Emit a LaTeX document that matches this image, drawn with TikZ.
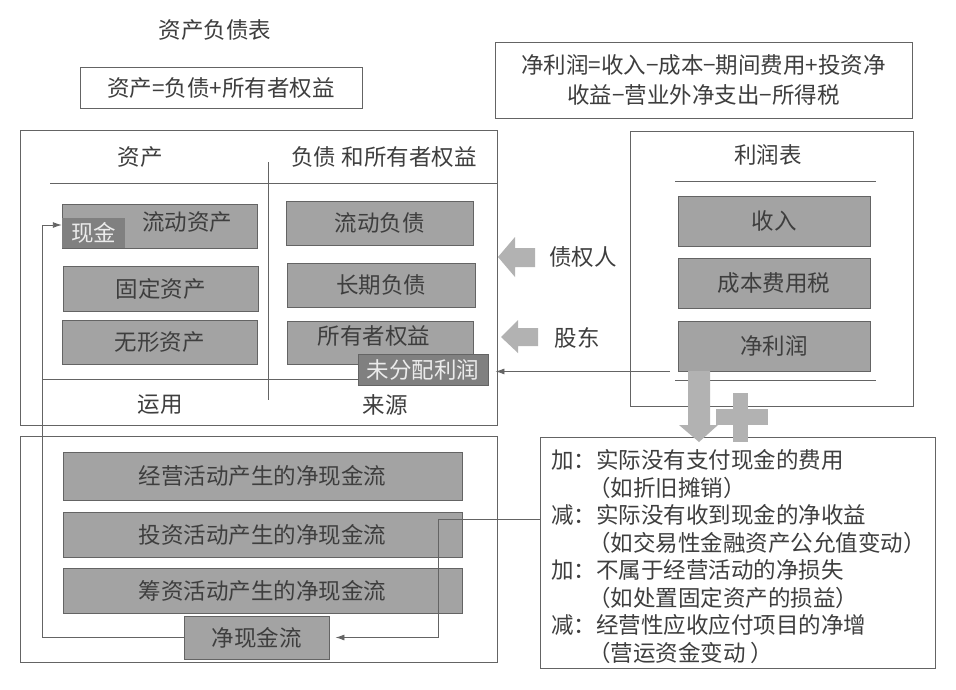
\documentclass[tikz,border=0pt]{standalone}
\usepackage{fontspec}
\newfontfamily\cjk{Noto Sans CJK SC}
\usepackage{xcolor}
\definecolor{bxgray}{RGB}{163,163,163}
\definecolor{bxdark}{RGB}{128,128,128}
\definecolor{lngray}{RGB}{100,100,100}
\definecolor{txgray}{RGB}{62,62,62}
\definecolor{arrgray}{RGB}{178,178,178}
\usetikzlibrary{arrows.meta,positioning,calc}

\begin{document}
\begin{tikzpicture}[x=1pt,y=-1pt,
  every node/.style={font=\cjk\fontsize{22.5}{27}\selectfont,text=txgray,inner sep=0pt},
  grybox/.style={draw=lngray,fill=bxgray,line width=0.9pt},
  drkbox/.style={fill=bxdark,text=white!92!black},
  frame/.style={draw=lngray,line width=0.9pt},
  arr/.style={-{Latex[length=9pt,width=6pt]},draw=lngray,line width=0.9pt},
  bigarr/.style={fill=arrgray}
]
  \path[fill=white] (0,0) rectangle (956,689);

  % Balance sheet
  \node (bstitle) at (215,30) {资产负债表};
  \node[draw=lngray,line width=0.9pt,minimum width=282pt,minimum height=41pt] (eqn) at (221,88) {资产=负债+所有者权益};
  \draw[frame] (20,130) rectangle (497,425);
  \node (zc) at (140,157) {资产};
  \node (fzqy) at (384,157) {负债 和所有者权益};
  \draw[frame] (50,183) -- (497,183);
  \draw[frame] (268,162) -- (268,400);
  \draw[frame] (42,379) -- (360,379);

  \node[grybox,minimum width=195pt,minimum height=44pt] (ldzc) at (159.5,226) {};
  \node (ldzctx) at (187,222) {流动资产};
  \node[drkbox,minimum width=63pt,minimum height=30pt] (xj) at (93.5,233) {现金};
  \node[grybox,minimum width=195pt,minimum height=45pt] (gdzc) at (160.5,288.5) {固定资产};
  \node[grybox,minimum width=195pt,minimum height=44pt] (wxzc) at (159.5,342) {无形资产};
  \node (yy) at (160,405) {运用};

  \node[grybox,minimum width=187pt,minimum height=44pt] (ldfz) at (379.5,223) {流动负债};
  \node[grybox,minimum width=188pt,minimum height=44pt] (cqfz) at (381,285) {长期负债};
  \node[grybox,minimum width=186pt,minimum height=43pt] (syzqy) at (380,342.5) {};
  \node (syzqytx) at (374,336) {所有者权益};
  \node[drkbox,draw=lngray,line width=0.9pt,minimum width=130pt,minimum height=31pt] (wfp) at (423,369.5) {未分配利润};
  \node (ly) at (385,405) {来源};

  % creditors and owners
  \fill[bigarr] (498,257) -- (515,237) -- (515,248) -- (535,248) -- (535,267) -- (515,267) -- (515,277) -- cycle;
  \fill[bigarr] (501,337) -- (518,320) -- (518,328) -- (538,328) -- (538,346) -- (518,346) -- (518,353) -- cycle;
  \node (zqr) at (583,257) {债权人};
  \node (gd) at (577,338) {股东};

  % Income statement
  \node[draw=lngray,line width=0.9pt,minimum width=417pt,minimum height=76pt,align=center,
    font=\cjk\fontsize{22.5}{30}\selectfont] (jlrgs) at (703.5,80) {净利润=收入−成本−期间费用+投资净\\收益−营业外净支出−所得税};
  \draw[frame] (630,131) rectangle (913,406);
  \node (lrb) at (768,155) {利润表};
  \draw[frame] (675,181) -- (876,181);
  \node[grybox,minimum width=192pt,minimum height=50pt] (sr) at (774,221) {收入};
  \node[grybox,minimum width=192pt,minimum height=50pt] (cbfys) at (774,283) {成本费用税};
  \node[grybox,minimum width=192pt,minimum height=50pt] (jlr) at (774,346) {净利润};
  \draw[frame] (675,380) -- (876,380);
  \draw[arr,shorten <=8pt,shorten >=7pt] (jlr.south west) -- (jlr.south west -| wfp.east);

  % Cash flow
  \draw[frame] (20,436) rectangle (497,662);
  \node[grybox,minimum width=399pt,minimum height=48pt] (jyhd) at (262.5,476) {经营活动产生的净现金流};
  \node[grybox,minimum width=399pt,minimum height=45pt] (tzhd) at (262.5,534.5) {投资活动产生的净现金流};
  \node[grybox,minimum width=399pt,minimum height=45pt] (czhd) at (262.5,590.5) {筹资活动产生的净现金流};
  \node[grybox,minimum width=145pt,minimum height=43pt] (jxjl) at (256.5,637.5) {净现金流};
  \draw[arr] (jxjl.west) -- (42,637.5) |- ([yshift=8pt]xj.west);

  % Adjustments
  \node[draw=lngray,line width=0.9pt,minimum width=395pt,minimum height=231pt] (tzx) at (737.5,552.5) {};
  \foreach \tx [count=\i] in {加：实际没有支付现金的费用,（如折旧摊销）,减：实际没有收到现金的净收益,
    （如交易性金融资产公允值变动）,加：不属于经营活动的净损失,（如处置固定资产的损益）,
    减：经营性应收应付项目的净增,（营运资金变动 ）}{
    \pgfmathsetmacro\ind{isodd(\i) ? 0 : 37}
    \node[anchor=west] (tzx\i) at ({551+\ind},{460+27.5*(\i-1)}) {\tx};
  }
  \coordinate (cfk) at (438,519);
  \draw[arr,{Latex[length=9pt,width=6pt]}-,shorten <=6pt] (jxjl.east) -| (cfk) -- (cfk -| tzx.west);

  % net profit arrow and plus
  \fill[bigarr] (688,371) -- (710,371) -- (710,425) -- (718,425) -- (699,442) -- (679,425) -- (688,425) -- cycle;
  \fill[bigarr] (733,393) rectangle (748,442);
  \fill[bigarr] (716,409) rectangle (768,425);
\end{tikzpicture}
\end{document}
